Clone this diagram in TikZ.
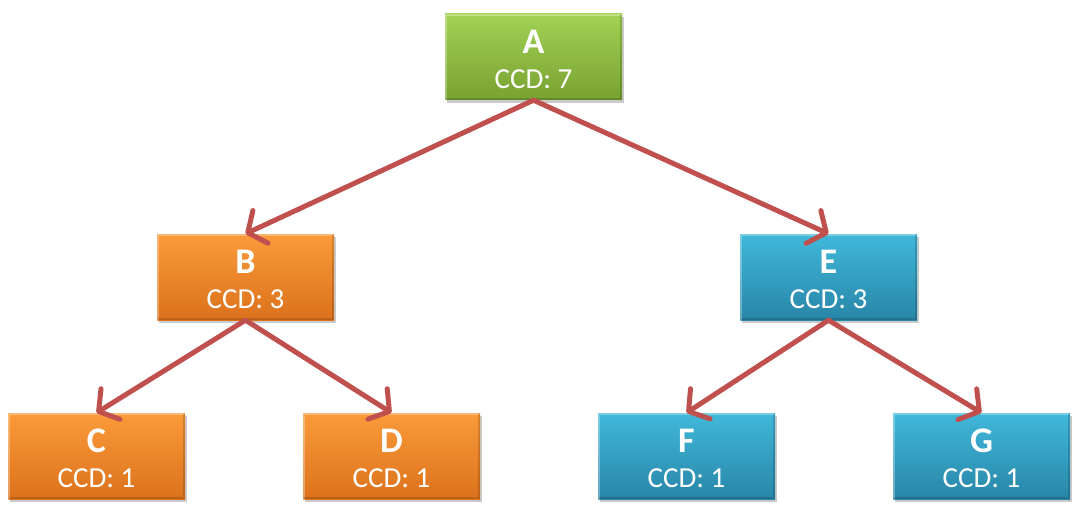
\documentclass[tikz,border=0pt]{standalone}
\usepackage{fontspec}
\setmainfont{Carlito}
\usetikzlibrary{arrows.meta,shadows}
\definecolor{gtop}{HTML}{A2D154}
\definecolor{gbot}{HTML}{78A231}
\definecolor{otop}{HTML}{FA9A3A}
\definecolor{obot}{HTML}{DC721C}
\definecolor{btop}{HTML}{40B8DA}
\definecolor{bbot}{HTML}{2886A8}
\definecolor{arr}{HTML}{C0504D}
\tikzset{
  box/.style={rectangle, minimum width=177pt, minimum height=86pt, inner sep=0pt,
    draw=none,
    drop shadow={shadow xshift=2pt, shadow yshift=-3pt, opacity=0.35, fill=black!60}},
  greenbox/.style={box, top color=gtop, bottom color=gbot},
  orangebox/.style={box, top color=otop, bottom color=obot},
  bluebox/.style={box, top color=btop, bottom color=bbot},
  titletext/.style={text=white, inner sep=0pt, font=\fontsize{36}{36}\selectfont\bfseries},
  ccdtext/.style={text=white, inner sep=0pt, font=\fontsize{29}{29}\selectfont},
  hilite/.style={draw=white, draw opacity=0.3, line width=2pt},
  shade/.style={draw=black, draw opacity=0.15, line width=2pt},
  link/.style={draw=arr, line width=5pt, line cap=round,
    -{Straight Barb[length=14pt, width=36pt, line width=5pt, round]}},
}
\newcommand{\treebox}[5]{%
  \node[#3] (#1) at #2 {};
  \draw[hilite] ([xshift=1pt,yshift=-1pt]#1.south west) -- ([xshift=1pt,yshift=-1pt]#1.north west) -- ([xshift=-1pt,yshift=-1pt]#1.north east);
  \draw[shade] ([xshift=-1pt,yshift=-1pt]#1.north east) -- ([xshift=-1pt,yshift=1pt]#1.south east) -- ([xshift=1pt,yshift=1pt]#1.south west);
  \node[titletext, anchor=base] (#1t) at ([yshift=-40pt]#1.north) {#4};
  \node[ccdtext, anchor=base] (#1c) at ([yshift=-75pt]#1.north) {CCD: #5};
}
\begin{document}
\begin{tikzpicture}[x=1pt,y=-1pt]
\useasboundingbox (0,0) rectangle (1079,524);
\treebox{A}{(533.5,57)}{greenbox}{A}{7}
\treebox{B}{(245.5,277)}{orangebox}{B}{3}
\treebox{E}{(828.5,277)}{bluebox}{E}{3}
\treebox{C}{(96.5,456)}{orangebox}{C}{1}
\treebox{D}{(391.5,456)}{orangebox}{D}{1}
\treebox{F}{(686.5,456)}{bluebox}{F}{1}
\treebox{G}{(981.5,456)}{bluebox}{G}{1}
\draw[link] (A.south) -- (B.north);
\draw[link] (A.south) -- (E.north);
\draw[link] (B.south) -- (C.north);
\draw[link] (B.south) -- (D.north);
\draw[link] (E.south) -- (F.north);
\draw[link] (E.south) -- (G.north);
\end{tikzpicture}
\end{document}
